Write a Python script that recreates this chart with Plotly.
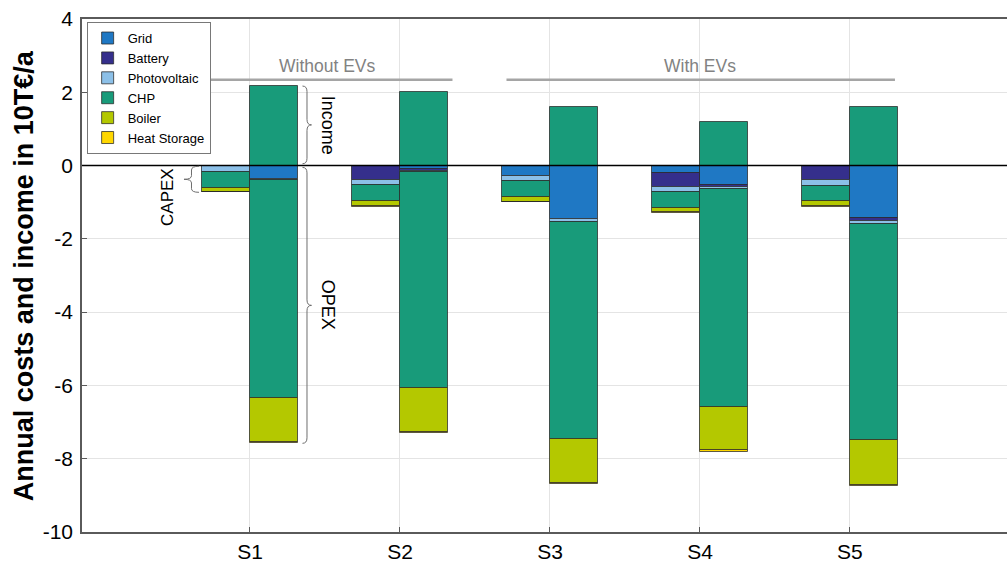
import plotly.graph_objects as go

scenarios = ["S1", "S2", "S3", "S4", "S5"]
components = ["Grid", "Battery", "Photovoltaic", "CHP", "Boiler", "Heat Storage"]
colors = ["#1f78c4", "#352f8c", "#8cc0e8", "#189b7a", "#b4c800", "#ffd700"]

# annual costs (positive magnitudes, plotted as negative) in 10 T€/a
capex = {
    "Grid":         [0.00, 0.00, 0.29, 0.21, 0.00],
    "Battery":      [0.00, 0.38, 0.00, 0.38, 0.39],
    "Photovoltaic": [0.17, 0.15, 0.12, 0.13, 0.17],
    "CHP":          [0.43, 0.44, 0.45, 0.43, 0.42],
    "Boiler":       [0.12, 0.14, 0.13, 0.13, 0.13],
    "Heat Storage": [0.01, 0.01, 0.01, 0.01, 0.01],
}
opex = {
    "Grid":         [0.36, 0.10, 1.47, 0.52, 1.44],
    "Battery":      [0.00, 0.04, 0.00, 0.07, 0.08],
    "Photovoltaic": [0.04, 0.04, 0.06, 0.05, 0.07],
    "CHP":          [5.93, 5.88, 5.92, 5.95, 5.91],
    "Boiler":       [1.22, 1.22, 1.20, 1.18, 1.21],
    "Heat Storage": [0.03, 0.03, 0.03, 0.05, 0.03],
}
income_chp = [2.17, 2.02, 1.61, 1.20, 1.61]

ytick_vals = [-10, -8, -6, -4, -2, 0, 2, 4]
ytick_text = ["-10", "-8", "-6", "-4", "-2", "0", "2", "4"]

pos = [i + 1 for i in range(len(scenarios))]
bw = 0.32
capex_x = [p - bw / 2 for p in pos]
opex_x = [p + bw / 2 for p in pos]

edge = dict(color="rgba(40,40,40,0.75)", width=1)
fig = go.Figure()
for name, col in zip(components, colors):
    fig.add_trace(go.Bar(
        x=capex_x + opex_x,
        y=[-v for v in capex[name]] + [-v for v in opex[name]],
        width=bw, name=name, marker=dict(color=col, line=edge),
    ))
fig.add_trace(go.Bar(
    x=opex_x, y=income_chp, width=bw, name="CHP income", showlegend=False,
    marker=dict(color=colors[3], line=edge),
))

def brace(x0, y_top, y_bot, depth, r):
    ym = (y_top + y_bot) / 2
    xm = x0 + depth / 2
    xt = x0 + depth
    return (f"M {x0},{y_top} Q {xm},{y_top} {xm},{y_top - r} "
            f"L {xm},{ym + r} Q {xm},{ym} {xt},{ym} "
            f"Q {xm},{ym} {xm},{ym - r} "
            f"L {xm},{y_bot + r} Q {xm},{y_bot} {x0},{y_bot}")

s1_capex_total = sum(capex[c][0] for c in components)
s1_opex_total = sum(opex[c][0] for c in components)
brace_col = "rgb(110,110,110)"
shapes = [
    dict(type="line", xref="paper", x0=0, x1=1, yref="y", y0=0, y1=0,
         line=dict(color="black", width=1.5), layer="above"),
    dict(type="line", x0=0.70, x1=2.35, y0=2.34, y1=2.34,
         line=dict(color="rgb(165,165,165)", width=2.5)),
    dict(type="line", x0=2.71, x1=5.30, y0=2.34, y1=2.34,
         line=dict(color="rgb(165,165,165)", width=2.5)),
    dict(type="path", path=brace(opex_x[0] + bw / 2 + 0.03, income_chp[0], 0.05, 0.06, 0.15),
         line=dict(color=brace_col, width=1)),
    dict(type="path", path=brace(opex_x[0] + bw / 2 + 0.03, -0.05, -s1_opex_total, 0.06, 0.15),
         line=dict(color=brace_col, width=1)),
    dict(type="path", path=brace(capex_x[0] - bw / 2 - 0.02, -0.02, -s1_capex_total, -0.1, 0.1),
         line=dict(color=brace_col, width=1)),
]

annotations = [
    dict(x=1.52, y=2.72, text="Without EVs", showarrow=False,
         font=dict(size=17.5, color="rgb(130,130,130)")),
    dict(x=4.0, y=2.72, text="With EVs", showarrow=False,
         font=dict(size=17.5, color="rgb(130,130,130)")),
    dict(x=1.52, y=income_chp[0] / 2, text="Income", showarrow=False, textangle=90,
         font=dict(size=18, color="black")),
    dict(x=1.52, y=-3.8, text="OPEX", showarrow=False, textangle=90,
         font=dict(size=18, color="black")),
    dict(x=0.45, y=-0.87, text="CAPEX", showarrow=False, textangle=-90,
         font=dict(size=17, color="black")),
    dict(xref="paper", yref="paper", x=-0.063, y=0.5, xanchor="center", yanchor="middle",
         text="<b>Annual costs and income in 10T€/a</b>", showarrow=False, textangle=-90,
         font=dict(size=27, color="black")),
]

axis_common = dict(showgrid=True, gridcolor="rgb(228,228,228)", gridwidth=1,
                   zeroline=False, showline=True, linecolor="rgb(90,90,90)", linewidth=1.5,
                   mirror=True, ticks="inside", ticklen=5, tickcolor="rgb(90,90,90)",
                   tickfont=dict(size=21), automargin=False)

fig.update_layout(
    width=1007, height=574,
    margin=dict(l=82, r=0, t=19, b=42),
    barmode="relative",
    bargap=0,
    plot_bgcolor="white", paper_bgcolor="white",
    font=dict(family="Liberation Sans, Arial, sans-serif", color="black"),
    shapes=shapes, annotations=annotations,
    legend=dict(x=0.005, y=0.994, xanchor="left", yanchor="top",
                bgcolor="white", bordercolor="rgb(120,120,120)", borderwidth=1,
                font=dict(size=13), tracegroupgap=0, traceorder="normal",
                itemwidth=30),
    xaxis=dict(range=[-0.12, 6.047], tickvals=pos, ticktext=scenarios, **axis_common),
    yaxis=dict(range=[-10, 4], tickvals=ytick_vals, ticktext=ytick_text,
               ticklabelstandoff=3, **axis_common),
)

fig.write_html("out.html", config={"displayModeBar": False},
               post_script="document.body.style.margin='0';document.body.style.overflow='hidden';")
